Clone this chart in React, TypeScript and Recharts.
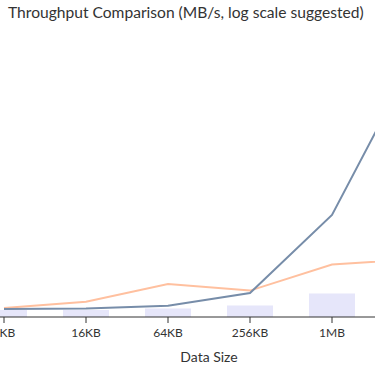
import { ComposedChart, Bar, Line, XAxis, YAxis } from 'recharts';

const sizes = ['4KB', '16KB', '64KB', '256KB', '1MB', '4MB'];
const baseline = [35, 35, 42, 58, 118, 236];
const seriesA = [40, 42, 56, 120, 510, 1290];
const seriesB = [45, 76, 165, 132, 262, 290];

const data = sizes.map((size, i) => ({
  size,
  baseline: baseline[i],
  a: seriesA[i],
  b: seriesB[i],
}));

const FONT = 'Lato, "Noto Sans", sans-serif';

export default function App() {
  return (
    <div style={{ position: 'fixed', left: 0, top: 0, width: 375, height: 366, overflow: 'hidden', background: '#fff', fontFamily: FONT }}>
      <div style={{ position: 'absolute', left: 8, top: 3, fontSize: 15.6, color: '#333', whiteSpace: 'nowrap' }}>
        Throughput Comparison (MB/s, log scale suggested)
      </div>
      <div style={{ position: 'absolute', left: -37, top: 0 }}>
        <ComposedChart width={492} height={366} data={data} margin={{ top: 37, right: 0, bottom: 4, left: 0 }}>
          <XAxis
            dataKey="size"
            height={45}
            stroke="#333"
            tickMargin={5}
            tick={{ fontSize: 12, fill: '#333', fontFamily: FONT }}
            label={{ value: 'Data Size', position: 'insideBottom', offset: 0, fontSize: 14, fill: '#333', fontFamily: FONT }}
          />
          <YAxis hide domain={[0, 1400]} />
          <Bar dataKey="baseline" fill="#e6e6fa" barSize={46} isAnimationActive={false} />
          <Line type="linear" dataKey="b" stroke="#ffc09f" strokeWidth={2} dot={false} isAnimationActive={false} />
          <Line type="linear" dataKey="a" stroke="#778da9" strokeWidth={2} dot={false} isAnimationActive={false} />
        </ComposedChart>
      </div>
    </div>
  );
}
